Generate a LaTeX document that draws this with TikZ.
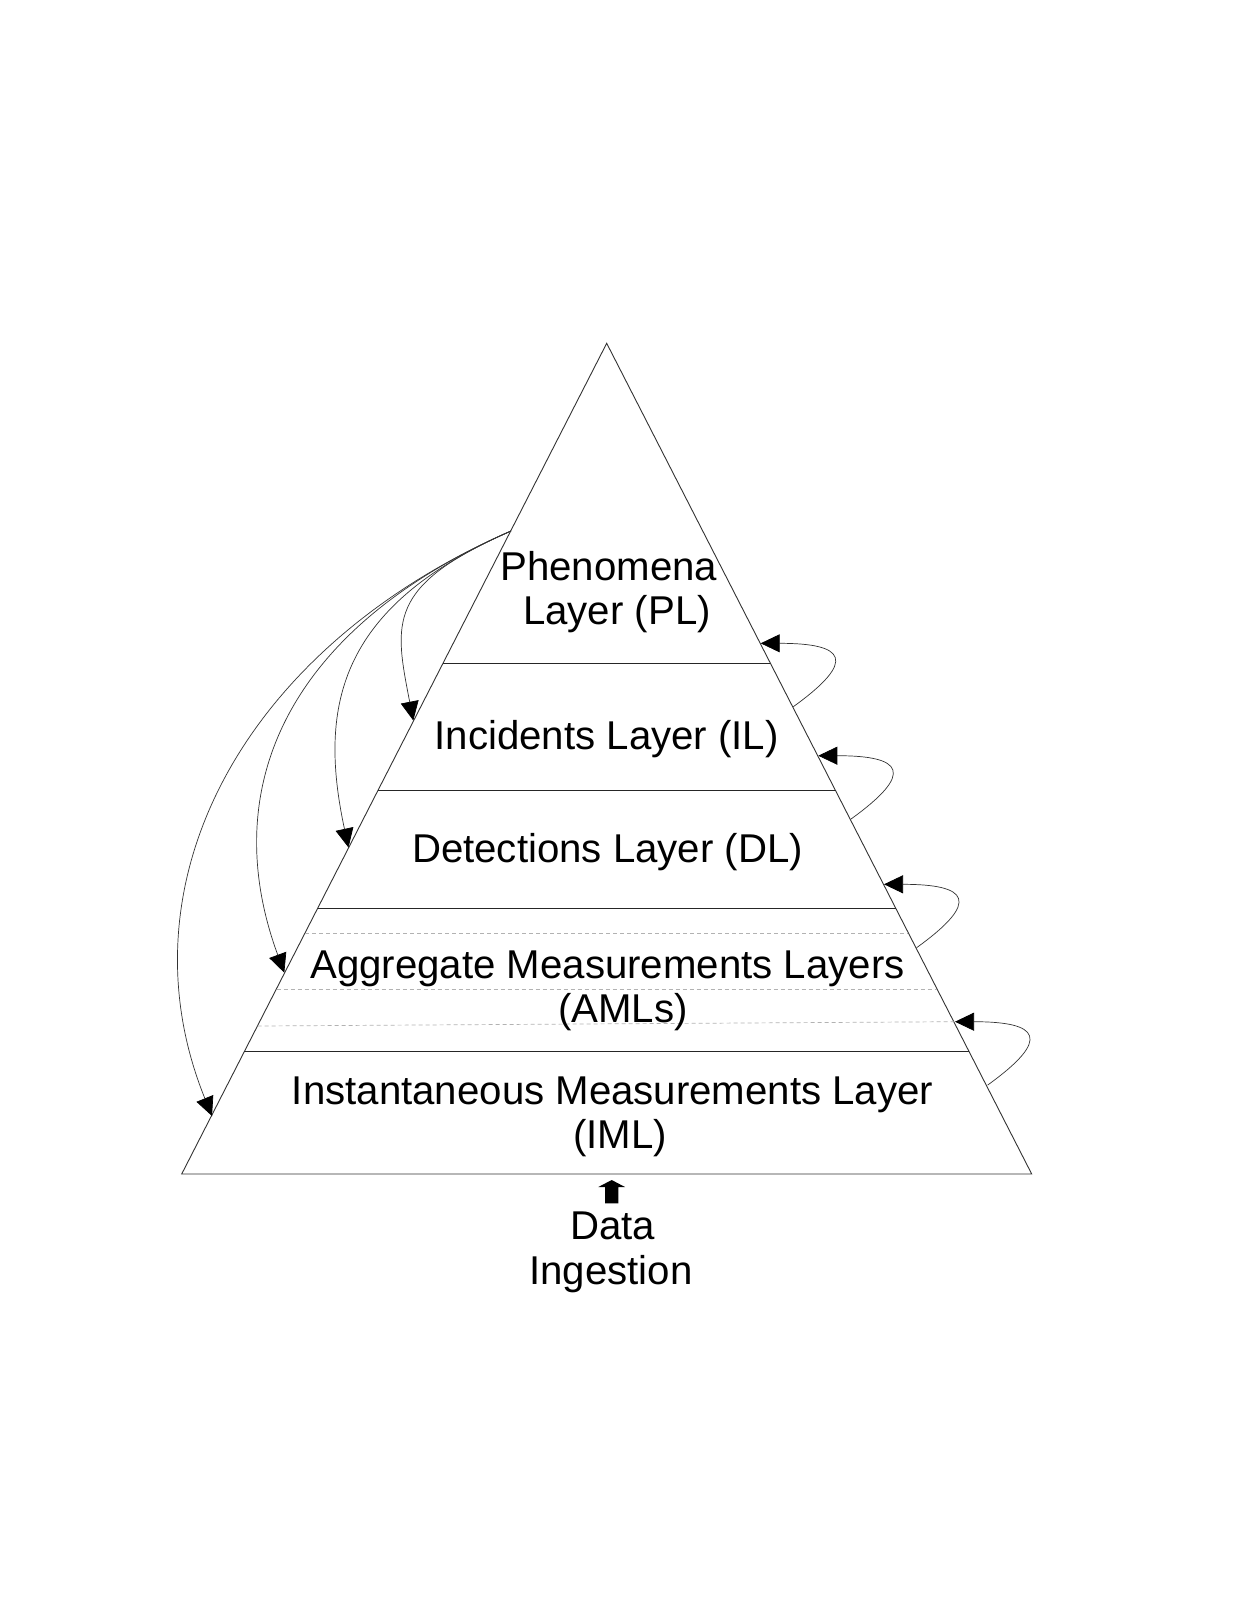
\documentclass[tikz,border=0pt]{standalone}
\usepackage{fontspec}
\setmainfont{Liberation Sans}
\usetikzlibrary{arrows.meta}
\begin{document}
\begin{tikzpicture}[x=1pt,y=-1pt,
  edge/.style={line width=0.9pt, black!80},
  sepline/.style={line width=1.1pt, black!85},
  subline/.style={line width=0.7pt, black!30, dash pattern=on 4pt off 3pt},
  lbl/.style={anchor=base, inner sep=0pt, font=\fontsize{40.2}{44}\selectfont},
  feed/.style={line width=0.7pt, black!80, -{Triangle[length=19pt,width=18pt,color=black]}},
]
\useasboundingbox (0,0) rectangle (1249,1617);
% pyramid
\coordinate (apex) at (606.7,343.3);
\coordinate (bl) at (181.7,1174);
\coordinate (br) at (1031.7,1174);
\draw[edge] (apex) -- (bl) -- (br) -- cycle;
% layer separators
\coordinate (s1l) at (443.0,663.3);  \coordinate (s1r) at (770.4,663.3);
\coordinate (s2l) at (377.9,790.5);  \coordinate (s2r) at (835.5,790.5);
\coordinate (s3l) at (317.7,908.3);  \coordinate (s3r) at (895.7,908.3);
\coordinate (s4l) at (244.3,1051.7); \coordinate (s4r) at (969.1,1051.7);
\draw[sepline] (s1l) -- (s1r);
\draw[sepline] (s2l) -- (s2r);
\draw[sepline] (s3l) -- (s3r);
\draw[sepline] (s4l) -- (s4r);
% sub-layers of AMLs
\coordinate (d1l) at (305.2,933.3);  \coordinate (d1r) at (908.2,933.3);
\coordinate (d2l) at (276.6,989.3);  \coordinate (d2r) at (936.8,989.3);
\coordinate (d3l) at (257.7,1026.0); \coordinate (d3r) at (953.8,1021.7);
\draw[subline] (d1l) -- (d1r);
\draw[subline] (d2l) -- (d2r);
\draw[subline] (d3l) -- (d3r);
% labels
\node[lbl] (pl1) at (608.8,580) {Phenomena};
\node[lbl] (pl2) at (617,624) {Layer (PL)};
\node[lbl] (il) at (606.7,749) {Incidents Layer (IL)};
\node[lbl] (dl) at (607.5,862) {Detections Layer (DL)};
\node[lbl] (aml1) at (607.5,978) {Aggregate Measurements Layers};
\node[lbl] (aml2) at (622.8,1022) {(AMLs)};
\node[lbl] (iml1) at (612.6,1104) {Instantaneous Measurements Layer};
\node[lbl] (iml2) at (620.3,1148) {(IML)};
\node[lbl] (data1) at (612.5,1239) {Data};
\node[lbl] (data2) at (611,1284) {Ingestion};
% data ingestion block arrow
\fill[black] (611.7,1180) -- (625,1187) -- (618.3,1187) -- (618.3,1203.3)
  -- (605,1203.3) -- (605,1187) -- (598.3,1187) -- cycle;
% feedback from PL to lower layers (left)
\coordinate (src) at (511,531);
\coordinate (ilT) at (413.3,720.5);
\coordinate (dlT) at (348.5,847.5);
\coordinate (amlT) at (284.3,972.7);
\coordinate (imlT) at (212,1116);
\draw[feed] (src) .. controls (386,585.7) and (394.3,622.5) .. (ilT);
\draw[feed] (src) .. controls (342,605) and (317,702) .. (dlT);
\draw[feed] (src) .. controls (288,628) and (216,787) .. (amlT);
\draw[feed] (src) .. controls (242,648) and (118,884) .. (imlT);
% upward loops (right)
\coordinate (r1s) at (793.3,706.7);  \coordinate (r1t) at (760.7,643.3);
\coordinate (r2s) at (850.9,819.1);  \coordinate (r2t) at (818.3,755.7);
\coordinate (r3s) at (916.6,947.7);  \coordinate (r3t) at (884,884.3);
\coordinate (r4s) at (987.6,1085.1); \coordinate (r4t) at (955,1021.7);
\draw[feed] (r1s) .. controls +(64.7,-46.7) and +(84.3,0) .. (r1t);
\draw[feed] (r2s) .. controls +(64.7,-46.7) and +(84.3,0) .. (r2t);
\draw[feed] (r3s) .. controls +(64.7,-46.7) and +(84.3,0) .. (r3t);
\draw[feed] (r4s) .. controls +(64.7,-46.7) and +(84.3,0) .. (r4t);
\end{tikzpicture}
\end{document}
